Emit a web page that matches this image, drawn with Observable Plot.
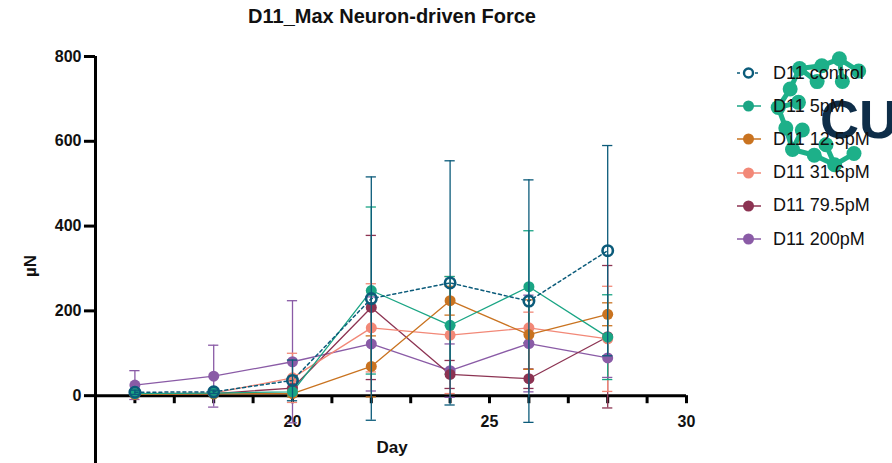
<!DOCTYPE html>
<html>
<head>
<meta charset="utf-8">
<script src="https://cdn.jsdelivr.net/npm/d3@7"></script>
<script src="https://cdn.jsdelivr.net/npm/@observablehq/plot@0.6"></script>
<style>
  html, body { margin: 0; padding: 0; background: #fff; overflow: hidden; }
  #wrap { position: relative; width: 892px; height: 463px; font-family: "Liberation Sans", Arial, sans-serif; }
  #chart { position: absolute; left: 0; top: 0; z-index: 2; }
  .lbl { position: absolute; font-weight: bold; color: #111; white-space: nowrap; z-index: 3; }
  #legend { position: absolute; left: 0; top: 0; z-index: 3; }
  .row { position: absolute; left: 737px; height: 20px; display: flex; align-items: center; font-size: 18px; color: #111; white-space: nowrap; }
  .row svg { margin-right: 12px; }
  #logo { position: absolute; left: 770px; top: 45px; z-index: 1; }
</style>
</head>
<body>
<div id="wrap">
  <div id="logo"></div>
  <div id="chart"></div>
  <div class="lbl" id="title" style="left:0;width:784px;text-align:center;top:5px;font-size:20px;">D11_Max Neuron-driven Force</div>
  <div class="lbl" id="xlab" style="left:0;width:784px;text-align:center;top:438px;font-size:17px;">Day</div>
  <div class="lbl" id="ylab" style="left:31px;top:266px;font-size:17px;transform:translate(-50%,-50%) rotate(-90deg);">µN</div>
  <div id="legend"></div>
</div>
<script>
// ---- data ----
const days = [16, 18, 20, 22, 24, 26, 28];
const series = ["D11 control", "D11 5pM", "D11 12.5pM", "D11 31.6pM", "D11 79.5pM", "D11 200pM"];
const colors = ["#0b5b7a", "#1aa584", "#c97320", "#f28877", "#8c3352", "#8a5ba6"];

const controlMean = [8, 9, 36, 229, 266, 223, 342];
const controlSD   = [5, 4, 48, 287, 288, 286, 248];
const pM5Mean     = [5, 6, 9, 248, 166, 257, 138];
const pM5SD       = [3, 4, 10, 197, 115, 132, 100];
const pM12Mean    = [3, 4, 5, 69, 224, 144, 192];
const pM12SD      = [2, 3, 8, 72, 34, 82, 27];
const pM31Mean    = [5, 6, 42, 160, 143, 160, 134];
const pM31SD      = [4, 5, 58, 104, 138, 37, 124];
const pM79Mean    = [4, 5, 18, 208, 50, 40, 139];
const pM79SD      = [3, 4, 15, 170, 33, 23, 168];
const pM200Mean   = [25, 46, 80, 122, 59, 123, 89];
const pM200SD     = [34, 73, 144, 111, 63, 114, 46];

const xTickDays = [16, 17, 18, 19, 20, 21, 22, 23, 24, 25, 26, 27, 28, 29, 30];
const xLabelDays = [20, 25, 30];
const yTicks = [0, 200, 400, 600, 800];

// ---- build table ----
const means = [controlMean, pM5Mean, pM12Mean, pM31Mean, pM79Mean, pM200Mean];
const sds = [controlSD, pM5SD, pM12SD, pM31SD, pM79SD, pM200SD];
const rows = [];
for (let i = series.length - 1; i >= 0; i--) {
  days.forEach((d, j) => rows.push({series: series[i], day: d, value: means[i][j], sd: sds[i][j]}));
}
const ctrl = rows.filter(r => r.series === "D11 control");
const others = rows.filter(r => r.series !== "D11 control");

const capHalf = 0.13;
const xTickLen = 19;
const yTickLen = 0.28;
const lw = 1.3;

const chart = Plot.plot({
  width: 892, height: 463,
  marginLeft: 95, marginRight: 206, marginTop: 56, marginBottom: 0,
  x: {domain: [15, 30], axis: null},
  y: {domain: [-160, 800], axis: null},
  color: {domain: series, range: colors},
  style: {fontFamily: "Liberation Sans, Arial, sans-serif", background: "transparent"},
  marks: [
    Plot.ruleX([15], {stroke: "#000", strokeWidth: 3}),
    Plot.ruleY([0], {x1: 15, x2: 30, stroke: "#000", strokeWidth: 3}),
    Plot.ruleX(xTickDays, {x: d => d, y1: 0, y2: -xTickLen, stroke: "#000", strokeWidth: 3}),
    Plot.text(xLabelDays, {x: d => d, y: 0, dy: 26, text: d => String(d), fontSize: 16, fontWeight: "bold", fill: "#111"}),
    Plot.ruleY(yTicks, {y: d => d, x1: 15 - yTickLen, x2: 15, stroke: "#000", strokeWidth: 3}),
    Plot.text(yTicks, {x: 15, y: d => d, dx: -14, textAnchor: "end", text: d => String(d), fontSize: 16, fontWeight: "bold", fill: "#111"}),
    Plot.ruleX(others, {x: "day", y1: d => d.value - d.sd, y2: d => d.value + d.sd, stroke: "series", strokeWidth: lw}),
    Plot.ruleY(others, {y: d => d.value + d.sd, x1: d => d.day - capHalf, x2: d => d.day + capHalf, stroke: "series", strokeWidth: lw}),
    Plot.ruleY(others, {y: d => d.value - d.sd, x1: d => d.day - capHalf, x2: d => d.day + capHalf, stroke: "series", strokeWidth: lw}),
    Plot.line(others, {x: "day", y: "value", z: "series", stroke: "series", strokeWidth: lw}),
    Plot.dot(others, {x: "day", y: "value", fill: "series", r: 5.5}),
    Plot.ruleX(ctrl, {x: "day", y1: d => d.value - d.sd, y2: d => d.value + d.sd, stroke: "series", strokeWidth: lw}),
    Plot.ruleY(ctrl, {y: d => d.value + d.sd, x1: d => d.day - capHalf, x2: d => d.day + capHalf, stroke: "series", strokeWidth: lw}),
    Plot.ruleY(ctrl, {y: d => d.value - d.sd, x1: d => d.day - capHalf, x2: d => d.day + capHalf, stroke: "series", strokeWidth: lw}),
    Plot.line(ctrl, {x: "day", y: "value", stroke: "series", strokeWidth: 1.5, strokeDasharray: "3,3"}),
    Plot.dot(ctrl, {x: "day", y: "value", stroke: "series", fill: "none", strokeWidth: 2.6, r: 5.2})
  ]
});
document.getElementById("chart").appendChild(chart);

// ---- legend ----
const legend = document.getElementById("legend");
series.forEach((s, i) => {
  const row = document.createElement("div");
  row.className = "row";
  row.style.top = (63 + i * 33.2) + "px";
  const ns = "http://www.w3.org/2000/svg";
  const sw = document.createElementNS(ns, "svg");
  sw.setAttribute("width", 24); sw.setAttribute("height", 14);
  const ln = document.createElementNS(ns, "line");
  ln.setAttribute("x1", 0); ln.setAttribute("x2", 24); ln.setAttribute("y1", 7); ln.setAttribute("y2", 7);
  ln.setAttribute("stroke", colors[i]); ln.setAttribute("stroke-width", 1.5);
  if (i === 0) ln.setAttribute("stroke-dasharray", "3,3");
  sw.appendChild(ln);
  const c = document.createElementNS(ns, "circle");
  c.setAttribute("cx", 11.5); c.setAttribute("cy", 7);
  if (i === 0) { c.setAttribute("r", 4.5); c.setAttribute("fill", "#fff"); c.setAttribute("stroke", colors[i]); c.setAttribute("stroke-width", 2.4); }
  else { c.setAttribute("r", 5.5); c.setAttribute("fill", colors[i]); }
  sw.appendChild(c);
  row.appendChild(sw);
  const t = document.createElement("span");
  t.textContent = s;
  row.appendChild(t);
  legend.appendChild(row);
});

// ---- watermark logo (decorative) ----
(function () {
  const ns = "http://www.w3.org/2000/svg";
  const svg = document.createElementNS(ns, "svg");
  svg.setAttribute("width", 122); svg.setAttribute("height", 140);
  const teal = "#1db089";
  const cx = 60, cy = 67;
  const angles = [-55, -80, -100, -125, -150, -175, 160, 135, 110, 85, 60];
  const radii =  [50, 54, 47, 53, 46, 52, 47, 53, 46, 53, 48];
  const pts = angles.map((a, k) => [cx + radii[k] * Math.cos(a * Math.PI / 180), cy + radii[k] * Math.sin(a * Math.PI / 180)]);
  const inner = angles.filter((a, k) => k % 2 === 1).map(a => [cx + 33 * Math.cos((a + 12) * Math.PI / 180), cy + 33 * Math.sin((a + 12) * Math.PI / 180)]);
  for (let k = 0; k < pts.length - 1; k++) {
    const l = document.createElementNS(ns, "line");
    l.setAttribute("x1", pts[k][0]); l.setAttribute("y1", pts[k][1]);
    l.setAttribute("x2", pts[k + 1][0]); l.setAttribute("y2", pts[k + 1][1]);
    l.setAttribute("stroke", teal); l.setAttribute("stroke-width", 5);
    svg.appendChild(l);
  }
  inner.forEach((p, k) => {
    const q = pts[2 * k + 1];
    const l = document.createElementNS(ns, "line");
    l.setAttribute("x1", p[0]); l.setAttribute("y1", p[1]); l.setAttribute("x2", q[0]); l.setAttribute("y2", q[1]);
    l.setAttribute("stroke", teal); l.setAttribute("stroke-width", 5);
    svg.appendChild(l);
  });
  pts.concat(inner).forEach(p => {
    const c = document.createElementNS(ns, "circle");
    c.setAttribute("cx", p[0]); c.setAttribute("cy", p[1]); c.setAttribute("r", 7.5);
    c.setAttribute("fill", teal);
    svg.appendChild(c);
  });
  const t = document.createElementNS(ns, "text");
  t.setAttribute("x", 50); t.setAttribute("y", 93);
  t.setAttribute("font-family", "Liberation Sans, Arial, sans-serif");
  t.setAttribute("font-weight", "bold"); t.setAttribute("font-size", 54);
  t.setAttribute("fill", "#0e2d48");
  t.textContent = "CU";
  svg.appendChild(t);
  document.getElementById("logo").appendChild(svg);
})();
</script>
</body>
</html>
